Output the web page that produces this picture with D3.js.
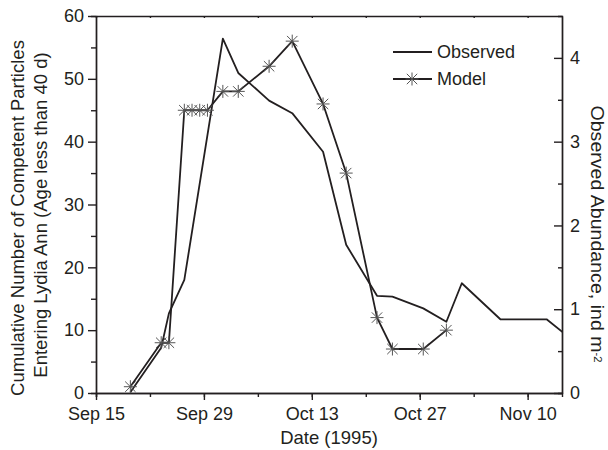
<!DOCTYPE html>
<html>
<head>
    <meta charset="utf-8">
    <title>Competent Particles vs Observed Abundance</title>
    <script src="https://d3js.org/d3.v7.min.js"></script>
    <style>
        body { margin: 0; padding: 0; background: #fff; }
        svg text { font-family: "Liberation Sans", Arial, Helvetica, sans-serif; fill: #231f20; }
        .axis path, .axis line { stroke: #231f20; stroke-width: 1.4; }
    </style>
</head>
<body>
<svg id="svg" width="608" height="450"></svg>
<script>
    // Model: cumulative number of competent particles (left axis)
    const modelDates = ["09-19", "09-23", "09-24", "09-26", "09-27", "09-28", "09-29", "10-01", "10-03",
                        "10-07", "10-10", "10-14", "10-17", "10-21", "10-23", "10-27", "10-30"];
    const modelValues = [1, 8, 8, 45, 45, 45, 45, 48, 48, 52, 56, 46, 35, 12, 7, 7, 10];

    // Observed abundance, ind m-2 (right axis)
    const obsDates = ["09-19", "09-23", "09-24", "09-26", "10-01", "10-03", "10-07", "10-10", "10-14",
                      "10-17", "10-21", "10-23", "10-27", "10-30", "11-01", "11-06", "11-12", "11-15"];
    const obsValues = [0.01, 0.54, 0.95, 1.35, 4.23, 3.82, 3.49, 3.34, 2.88,
                       1.77, 1.16, 1.15, 1.01, 0.85, 1.31, 0.88, 0.88, 0.66];

    const dateTicks = ["09-15", "09-29", "10-13", "10-27", "11-10"];
    const leftTicks = [0, 10, 20, 30, 40, 50, 60];
    const rightTicks = [0, 1, 2, 3, 4];

    const parse = d3.timeParse("%Y-%m-%d %H");
    const at = (md, h) => parse("1995-" + md + " " + h);

    const model = modelDates.map((d, i) => ({ date: at(d, 11), value: modelValues[i] }));
    const observed = obsDates.map((d, i) => ({ date: at(d, 11), value: obsValues[i] }));

    const svg = d3.select("svg");
    const margin = { top: 16, right: 46, bottom: 57, left: 96 };
    const width = +svg.attr("width") - margin.left - margin.right;
    const height = +svg.attr("height") - margin.top - margin.bottom;

    const x = d3.scaleTime().domain([at("09-15", 0), at("11-14", 11)]).range([0, width]);
    const yL = d3.scaleLinear().domain([0, 60]).range([height, 0]);
    const yR = d3.scaleLinear().domain([0, 4.5]).range([height, 0]);

    const g = svg.append("g").attr("transform", `translate(${margin.left},${margin.top})`);

    g.append("clipPath").attr("id", "clip")
        .append("rect").attr("width", width).attr("height", height);

    // weekly minor ticks
    const weekly = d3.timeDay.range(x.domain()[0], x.domain()[1]).filter((d, i) => i % 7 === 0);
    const majorDates = dateTicks.map(d => at(d, 0));

    // Bottom axis
    g.append("g").attr("class", "axis")
        .attr("transform", `translate(0,${height})`)
        .call(d3.axisBottom(x).tickValues(weekly).tickSize(4).tickFormat(""));
    g.append("g").attr("class", "axis")
        .attr("transform", `translate(0,${height})`)
        .call(d3.axisBottom(x).tickValues(majorDates).tickSize(7).tickPadding(7).tickSizeOuter(0)
            .tickFormat(d3.timeFormat("%b %-d")))
        .selectAll("text").attr("font-size", 18);

    // Top axis
    g.append("g").attr("class", "axis")
        .call(d3.axisTop(x).tickValues(weekly).tickSize(-2).tickSizeOuter(0).tickFormat(""));

    // Left axis
    g.append("g").attr("class", "axis")
        .call(d3.axisLeft(yL).tickValues(d3.range(5, 60, 10)).tickSize(5).tickFormat(""));
    g.append("g").attr("class", "axis")
        .call(d3.axisLeft(yL).tickValues(leftTicks).tickSize(8).tickPadding(4).tickSizeOuter(0))
        .selectAll("text").attr("font-size", 18);

    // Right axis (ticks point inward)
    g.append("g").attr("class", "axis")
        .attr("transform", `translate(${width},0)`)
        .call(d3.axisRight(yR).tickValues(d3.range(0.5, 4.5, 1)).tickSize(-4).tickFormat(""));
    g.append("g").attr("class", "axis")
        .attr("transform", `translate(${width},0)`)
        .call(d3.axisRight(yR).tickValues(rightTicks).tickSize(-8).tickPadding(8).tickSizeOuter(0)
            .tickFormat(d3.format("d")))
        .selectAll("text").attr("font-size", 18);

    g.selectAll(".axis text").attr("fill", "#231f20");

    // Lines
    const obsLine = d3.line().x(d => x(d.date)).y(d => yR(d.value));
    const modelLine = d3.line().x(d => x(d.date)).y(d => yL(d.value));

    g.append("path").datum(observed)
        .attr("clip-path", "url(#clip)")
        .attr("fill", "none").attr("stroke", "#231f20").attr("stroke-width", 1.8)
        .attr("stroke-linejoin", "round").attr("d", obsLine);

    g.append("path").datum(model)
        .attr("fill", "none").attr("stroke", "#231f20").attr("stroke-width", 1.8)
        .attr("stroke-linejoin", "round").attr("d", modelLine);

    // star marker: vertical, horizontal and two diagonals
    const r = 6.5;
    const d45 = r * 0.8;
    const star = `M0,${-r}V${r}M${-r},0H${r}M${-d45},${-d45}L${d45},${d45}M${-d45},${d45}L${d45},${-d45}`;

    g.selectAll(".star").data(model).join("path")
        .attr("class", "star")
        .attr("transform", d => `translate(${x(d.date)},${yL(d.value)})`)
        .attr("d", star)
        .attr("fill", "none").attr("stroke", "#555").attr("stroke-width", 1);

    // Legend
    const leg = g.append("g").attr("transform", "translate(297,36)");
    leg.append("line").attr("x1", 0).attr("x2", 39).attr("y1", 0).attr("y2", 0)
        .attr("stroke", "#231f20").attr("stroke-width", 1.8);
    leg.append("text").attr("x", 44).attr("y", 0).attr("dy", "0.35em").attr("font-size", 18).text("Observed");
    leg.append("line").attr("x1", 0).attr("x2", 39).attr("y1", 27).attr("y2", 27)
        .attr("stroke", "#231f20").attr("stroke-width", 1.8);
    leg.append("path").attr("transform", "translate(19,27)").attr("d", star)
        .attr("fill", "none").attr("stroke", "#555").attr("stroke-width", 1);
    leg.append("text").attr("x", 44).attr("y", 27).attr("dy", "0.35em").attr("font-size", 18).text("Model");

    // Axis titles
    svg.append("text")
        .attr("transform", "translate(329,444)")
        .attr("text-anchor", "middle").attr("font-size", 18.5)
        .text("Date (1995)");

    svg.append("text")
        .attr("transform", "translate(24,218) rotate(-90)")
        .attr("text-anchor", "middle").attr("font-size", 18.5)
        .text("Cumulative Number of Competent Particles");
    svg.append("text")
        .attr("transform", "translate(47,215) rotate(-90)")
        .attr("text-anchor", "middle").attr("font-size", 18.5)
        .text("Entering Lydia Ann (Age less than 40 d)");

    const rt = svg.append("text")
        .attr("transform", "translate(591,234) rotate(90) scale(1.12,1)")
        .attr("text-anchor", "middle").attr("font-size", 17.5);
    rt.append("tspan").text("Observed Abundance, ind m");
    rt.append("tspan").attr("dy", "-0.35em").attr("font-size", 10).text("-2");
</script>
</body>
</html>
